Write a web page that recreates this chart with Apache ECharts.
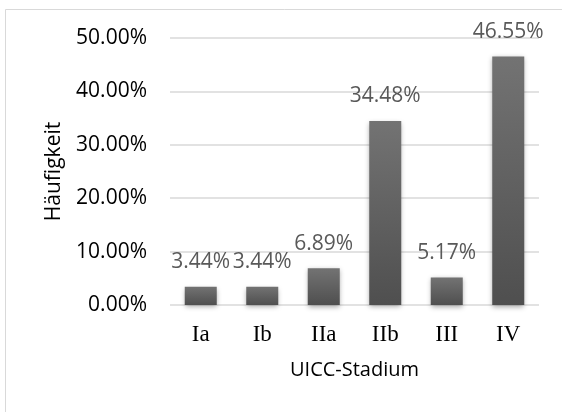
<!DOCTYPE html>
<html>
<head>
<meta charset="utf-8">
<script src="https://cdn.jsdelivr.net/npm/echarts@6/dist/echarts.min.js"></script>
<style>
html,body{margin:0;padding:0;background:#fff;}
#c{width:562px;height:412px;}
</style>
</head>
<body>
<div id="c"></div>
<script>
const categories = ['Ia', 'Ib', 'IIa', 'IIb', 'III', 'IV'];
const values = [3.44, 3.44, 6.89, 34.48, 5.17, 46.55];
const yMin = 0, yMax = 50, yStep = 10;

const chart = echarts.init(document.getElementById('c'), null, {renderer: 'canvas'});
chart.setOption({
  animation: false,
  backgroundColor: '#ffffff',
  graphic: [{
    type: 'rect',
    shape: {x: 5.5, y: 9.5, width: 700, height: 500},
    style: {fill: 'none', stroke: '#d9d9d9', lineWidth: 1}
  }],
  grid: {left: 170, right: 23, top: 38, bottom: 107},
  xAxis: {
    type: 'category',
    data: categories,
    axisLine: {show: false},
    axisTick: {show: false},
    axisLabel: {fontFamily: 'Liberation Serif', fontSize: 23, color: '#000', margin: 18},
    name: 'UICC-Stadium',
    nameLocation: 'middle',
    nameGap: 55,
    nameTextStyle: {fontFamily: 'Open Sans', fontSize: 20, color: '#000'}
  },
  yAxis: {
    type: 'value',
    min: yMin, max: yMax, interval: yStep,
    axisLine: {show: false},
    axisTick: {show: false},
    splitLine: {lineStyle: {color: '#d9d9d9', width: 1.5}},
    axisLabel: {
      fontFamily: 'Open Sans', fontSize: 21, color: '#000', margin: 23,
      formatter: v => v.toFixed(2) + '%'
    },
    name: 'Häufigkeit',
    nameLocation: 'middle',
    nameGap: 105,
    nameTextStyle: {fontFamily: 'Open Sans', fontSize: 21, color: '#000'}
  },
  series: [{
    type: 'bar',
    data: values,
    barWidth: 32,
    itemStyle: {
      color: new echarts.graphic.LinearGradient(0, 0, 0, 1, [
        {offset: 0, color: '#737373'},
        {offset: 1, color: '#4f4f4f'}
      ]),
      shadowBlur: 5,
      shadowColor: 'rgba(0,0,0,0.35)',
      shadowOffsetY: 2
    },
    label: {
      show: true,
      position: 'top',
      distance: 14,
      fontFamily: 'Open Sans',
      fontSize: 21,
      color: '#595959',
      formatter: p => p.value.toFixed(2) + '%'
    }
  }]
});
</script>
</body>
</html>
